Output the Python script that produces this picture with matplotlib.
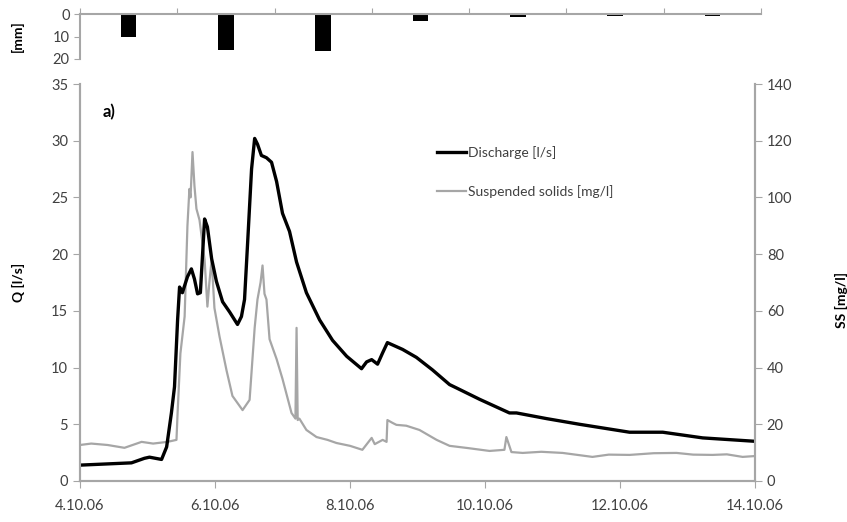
import numpy as np
import matplotlib.pyplot as plt

plt.rcParams['font.family'] = ['Lato', 'DejaVu Sans']

# rainfall per period [mm] (top panel)
rain_mm = [10, 16.2, 16.3, 3.1, 1.2, 1.0, 1.0]

# discharge [l/s], time in hours since 4.10.06 00:00
q_hours = [0.0, 18.3, 22.9, 24.7, 29.0, 30.8, 32.5, 33.6, 34.7, 35.4, 36.4, 38.2,
           39.6, 40.7, 41.8, 42.8, 44.3, 45.3, 46.8, 48.5, 50.7, 53.2, 56.0, 57.4,
           58.5, 59.6, 61.0, 62.1, 63.1, 64.5, 66.3, 68.1, 69.9, 72.0, 74.5, 77.0,
           80.5, 85.2, 89.8, 94.8, 100.1, 101.9, 103.7, 105.8, 107.6, 109.3, 114.7,
           119.6, 125.3, 131.4, 133.9, 142.1, 152.7, 155.2, 165.9, 177.6, 195.4,
           207.2, 221.4, 240.0]
q_vals = [1.4, 1.6, 2.0, 2.1, 1.9, 3.0, 6.0, 8.3, 14.2, 17.1, 16.6, 18.0,
          18.7, 17.8, 16.5, 16.6, 23.1, 22.4, 19.6, 17.6, 15.8, 14.9, 13.8, 14.5,
          16.0, 21.0, 27.5, 30.2, 29.7, 28.7, 28.5, 28.1, 26.4, 23.6, 22.0, 19.3,
          16.6, 14.2, 12.4, 11.0, 9.9, 10.5, 10.7, 10.3, 11.3, 12.2, 11.6,
          10.9, 9.8, 8.5, 8.2, 7.2, 6.0, 6.0, 5.5, 5.0, 4.3,
          4.3, 3.8, 3.5]

# suspended solids [mg/l]
ss_hours = [0.0, 4.0, 9.8, 15.8, 21.9, 26.0, 31.1, 34.3, 34.7, 35.7, 37.2, 38.2,
            38.9, 39.3, 40.0, 40.7, 41.4, 42.5, 44.3, 45.3, 46.0, 46.8, 47.8, 49.6,
            52.1, 54.2, 57.8, 60.3, 62.1, 63.1, 64.2, 64.9, 65.6, 66.3, 67.4, 69.9,
            72.0, 75.2, 76.6, 77.0, 77.4, 78.0, 80.5, 84.1, 88.0, 91.2, 96.0, 100.4,
            103.7, 104.8, 107.6, 109.0, 109.3, 111.1, 112.5, 116.0, 120.7, 126.8,
            131.4, 138.0, 145.6, 150.9, 151.6, 153.4, 157.4, 164.0, 171.6, 182.2,
            188.0, 195.4, 204.0, 212.1, 218.0, 224.9, 230.0, 235.6, 240.0]
ss_vals = [12.7, 13.2, 12.7, 11.7, 13.8, 13.2, 13.8, 14.5, 24, 45, 58, 90,
           103, 100, 116, 104, 96, 92, 78, 61.5, 70, 78, 61, 51,
           39, 30, 25, 28.6, 54, 64, 70, 76, 66, 64, 50, 43,
           36, 24, 22, 54, 21.5, 22, 18, 15.5, 14.5, 13.4, 12.4, 11,
           15.2, 13, 14.5, 13.8, 21.5, 20.5, 19.8, 19.5, 18, 14.5,
           12.4, 11.6, 10.6, 11, 15.5, 10.2, 9.9, 10.3, 9.9, 8.5,
           9.3, 9.2, 9.8, 9.9, 9.3, 9.2, 9.4, 8.5, 8.8]

date_ticks = [0, 48, 96, 144, 192, 240]
date_labels = ["4.10.06", "6.10.06", "8.10.06", "10.10.06", "12.10.06", "14.10.06"]

spine_col = '#A6A6A6'
text_col = '#404040'

fig = plt.figure(figsize=(8.47, 5.22), dpi=100)

# rainfall panel
axr = fig.add_axes([80 / 847, 1 - 59 / 522, 681 / 847, 45 / 522])
axr.bar(np.arange(len(rain_mm)), rain_mm, width=0.16, color='black')
axr.set_xlim(-0.5, len(rain_mm) - 0.5)
axr.set_ylim(20, 0)
axr.set_yticks([0, 10, 20])
axr.set_xticks(np.arange(len(rain_mm) + 1) - 0.5)
axr.xaxis.tick_top()
axr.tick_params(axis='x', labeltop=False, length=4, color=spine_col)
axr.tick_params(axis='y', labelsize=10.5, colors=text_col, length=4)
axr.tick_params(axis='y', color=spine_col)
for s in ['right', 'bottom']:
    axr.spines[s].set_visible(False)
for s in ['left', 'top']:
    axr.spines[s].set_color(spine_col)
    axr.spines[s].set_linewidth(1.5)
axr.set_ylabel("[mm]", fontsize=10, fontweight='bold')
axr.yaxis.set_label_coords(-0.082, 0.5)

# main panel
ax = fig.add_axes([80 / 847, 41 / 522, 675 / 847, 397 / 522])
ax2 = ax.twinx()
ax2.plot(ss_hours, ss_vals, color='#A6A6A6', lw=1.6, label="Suspended solids [mg/l]")
ax.plot(q_hours, q_vals, color='black', lw=2.4, label="Discharge [l/s]")
ax.set_zorder(ax2.get_zorder() + 1)
ax.patch.set_visible(False)

ax.set_xlim(0, 240)
ax.set_ylim(0, 35)
ax2.set_ylim(0, 140)
ax.set_yticks(range(0, 36, 5))
ax2.set_yticks(range(0, 141, 20))
ax.set_xticks(date_ticks, date_labels)
for a in (ax, ax2):
    a.tick_params(labelsize=10.5, colors=text_col, length=5)
    a.tick_params(color=spine_col)
    for s in a.spines.values():
        s.set_color(spine_col)
        s.set_linewidth(1.5)
    a.spines['top'].set_visible(False)
ax.tick_params(axis='x', pad=8)

ax.set_ylabel("Q [l/s]", fontsize=10, fontweight='bold')
ax.yaxis.set_label_coords(-0.082, 0.5)
fig.text(841 / 847, 1 - 300 / 522, "SS [mg/l]", rotation=90, fontsize=10,
         fontweight='bold', ha='center', va='center')
ax.text(0.033, 0.915, "a)", transform=ax.transAxes, fontsize=12, fontweight='bold')

h1, l1 = ax.get_legend_handles_labels()
h2, l2 = ax2.get_legend_handles_labels()
fig.legend(h1 + h2, l1 + l2, loc='upper left', bbox_to_anchor=(437 / 847, 1 - 146 / 522),
           frameon=False, fontsize=10, handlelength=2.1, handletextpad=0.1,
           labelspacing=1.9, borderpad=0, borderaxespad=0, labelcolor=text_col)

fig.savefig('out.png', dpi=100)
